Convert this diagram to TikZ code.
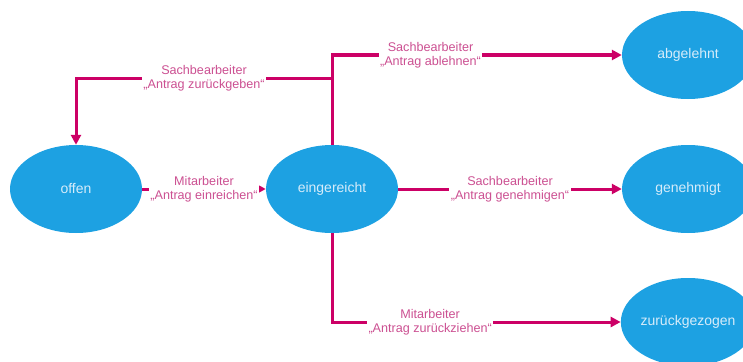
\documentclass[tikz,border=0pt]{standalone}
\usepackage{fontspec}
\setmainfont{Liberation Sans}
\usetikzlibrary{arrows.meta,shapes.geometric}
\definecolor{stateblue}{RGB}{29,161,226}
\definecolor{statetext}{RGB}{214,236,250}
\definecolor{flowmagenta}{RGB}{204,0,102}
\definecolor{flowtext}{RGB}{204,80,146}
\begin{document}
\begin{tikzpicture}[x=1pt,y=-1pt,
  state/.style={ellipse,fill=stateblue,draw=none,minimum width=132pt,minimum height=88pt,
    inner sep=0pt,text=statetext,font=\fontsize{14}{16}\selectfont},
  conn/.style={draw=flowmagenta,line width=3pt,line join=miter,
    -{Triangle[length=10pt,width=10pt]}},
  lbl/.style={fill=white,inner sep=1.5pt,align=center,text=flowtext,
    font=\fontsize{12.6}{14}\selectfont}]
\useasboundingbox (0,0) rectangle (743,361);
% states
\node[state] (offen) at (76,189) {offen};
\node[state] (eing) at (332,189) {eingereicht};
\node[state] (abg) at (688,55) {abgelehnt};
\node[state] (gen) at (688,189) {genehmigt};
\node[state] (zur) at (688,322) {zurückgezogen};
% fork on the upward branch
\coordinate (fork) at (332,78);
% transitions
\draw[conn] (offen.east) -- node[lbl] {Mitarbeiter\\„Antrag einreichen“} (eing.west);
\draw[conn] (eing.east) -- node[lbl] {Sachbearbeiter\\„Antrag genehmigen“} (gen.west);
\draw[conn] (eing.north) |- node[lbl,pos=0.67] {Sachbearbeiter\\„Antrag ablehnen“} (abg.west);
\draw[conn] (fork) -| node[lbl,pos=0.25] {Sachbearbeiter\\„Antrag zurückgeben“} (offen.north);
\draw[conn] (eing.south) |- node[lbl,pos=0.67] {Mitarbeiter\\„Antrag zurückziehen“} (zur.west);
\end{tikzpicture}
\end{document}
